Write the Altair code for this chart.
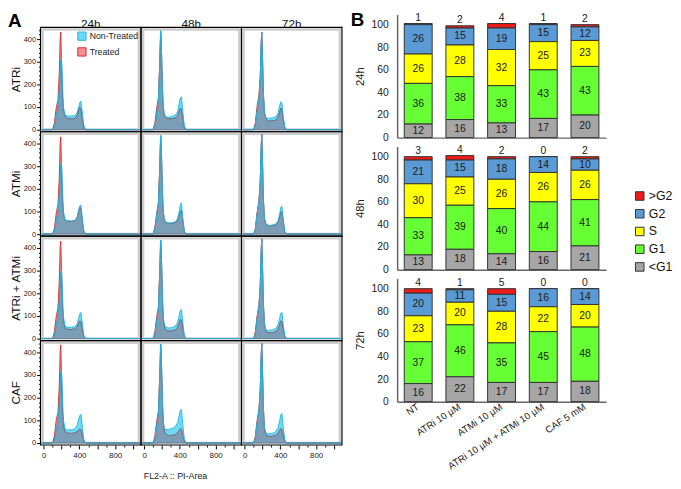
import altair as alt
import pandas as pd

# ---------------- Panel A: DNA content histograms ----------------
treatments = ["ATRi", "ATMi", "ATRi + ATMi", "CAF"]
times = ["24h", "48h", "72h"]
series_names = ["Non-Treated", "Treated"]
fl2_area = [-20, 100, 120, 140, 160, 175, 185, 192, 200, 210, 222, 240, 270, 310, 350, 375, 392, 405, 418, 432, 450, 470, 1080]

atri_24h_nt = [0, 0, 10, 55, 95, 170, 260, 305, 317, 210, 100, 65, 60, 60, 62, 75, 100, 120, 126, 80, 20, 0, 0]
atri_24h_t = [0, 0, 30, 95, 130, 250, 400, 431, 300, 150, 85, 58, 50, 47, 50, 62, 85, 98, 88, 45, 10, 0, 0]
atri_48h_nt = [0, 0, 15, 70, 130, 290, 436, 400, 260, 130, 75, 57, 55, 58, 65, 80, 115, 140, 145, 85, 18, 0, 0]
atri_48h_t = [0, 0, 30, 95, 140, 300, 436, 390, 250, 125, 72, 52, 48, 48, 52, 62, 80, 95, 88, 45, 8, 0, 0]
atri_72h_nt = [0, 0, 20, 85, 135, 225, 375, 431, 330, 165, 80, 52, 50, 52, 58, 75, 105, 123, 118, 60, 12, 0, 0]
atri_72h_t = [0, 0, 30, 105, 150, 235, 380, 431, 325, 160, 70, 45, 38, 38, 42, 55, 75, 95, 85, 45, 8, 0, 0]

atmi_24h_nt = [0, 0, 10, 55, 95, 170, 260, 305, 318, 205, 100, 62, 58, 58, 60, 75, 105, 125, 128, 75, 15, 0, 0]
atmi_24h_t = [0, 0, 25, 90, 130, 250, 400, 429, 300, 150, 85, 63, 58, 56, 58, 72, 100, 118, 110, 55, 10, 0, 0]
atmi_48h_nt = [0, 0, 20, 80, 135, 295, 435, 400, 260, 130, 72, 53, 49, 50, 55, 70, 100, 130, 138, 75, 15, 0, 0]
atmi_48h_t = [0, 0, 30, 90, 140, 300, 435, 395, 255, 125, 70, 52, 48, 47, 50, 60, 80, 100, 105, 60, 10, 0, 0]
atmi_72h_nt = [0, 0, 20, 90, 140, 230, 380, 440, 330, 160, 70, 44, 38, 40, 45, 60, 90, 118, 123, 65, 12, 0, 0]
atmi_72h_t = [0, 0, 25, 95, 145, 235, 385, 440, 325, 155, 65, 42, 37, 36, 40, 52, 72, 95, 100, 55, 10, 0, 0]

combo_24h_nt = [0, 0, 10, 55, 90, 165, 250, 290, 301, 200, 95, 55, 50, 50, 52, 65, 90, 110, 115, 70, 15, 0, 0]
combo_24h_t = [0, 0, 30, 95, 135, 255, 405, 430, 300, 145, 75, 45, 40, 40, 42, 52, 65, 78, 72, 40, 8, 0, 0]
combo_48h_nt = [0, 0, 15, 75, 130, 295, 435, 400, 260, 128, 68, 50, 47, 48, 55, 72, 100, 125, 128, 75, 15, 0, 0]
combo_48h_t = [0, 0, 30, 95, 140, 300, 435, 395, 250, 120, 60, 38, 33, 33, 38, 50, 68, 85, 80, 45, 8, 0, 0]
combo_72h_nt = [0, 0, 20, 90, 140, 230, 380, 440, 330, 160, 65, 38, 36, 38, 45, 62, 90, 112, 115, 65, 12, 0, 0]
combo_72h_t = [0, 0, 30, 100, 145, 235, 385, 440, 325, 155, 60, 30, 25, 25, 30, 42, 60, 78, 72, 40, 8, 0, 0]

caf_24h_nt = [0, 0, 10, 55, 90, 170, 265, 310, 324, 210, 100, 62, 58, 58, 62, 78, 105, 122, 127, 75, 15, 0, 0]
caf_24h_t = [0, 0, 30, 100, 135, 255, 405, 433, 300, 145, 75, 48, 43, 42, 44, 50, 57, 62, 58, 35, 8, 0, 0]
caf_48h_nt = [0, 0, 15, 75, 130, 295, 435, 400, 260, 130, 72, 58, 60, 63, 72, 90, 120, 145, 148, 85, 18, 0, 0]
caf_48h_t = [0, 0, 30, 95, 140, 300, 435, 395, 250, 120, 58, 38, 33, 33, 36, 45, 55, 62, 58, 35, 6, 0, 0]
caf_72h_nt = [0, 0, 20, 90, 140, 230, 380, 440, 330, 160, 70, 44, 40, 42, 50, 68, 98, 125, 130, 70, 14, 0, 0]
caf_72h_t = [0, 0, 30, 100, 145, 235, 385, 440, 325, 155, 60, 33, 29, 29, 33, 42, 55, 63, 58, 35, 6, 0, 0]

# ---------------- Panel B: cell-cycle distribution (%) ----------------
conditions = ["NT", "ATRi 10 µM", "ATMi 10 µM", "ATRi 10 µM + ATMi 10 µM", "CAF 5 mM"]
phase_names = [">G2", "G2", "S", "G1", "<G1"]
phase_colors = ["#ee1b1b", "#5b9bd5", "#ffff00", "#66ff33", "#a6a6a6"]

pct_24h_subg1 = [12, 16, 13, 17, 20]
pct_24h_g1 = [36, 38, 33, 43, 43]
pct_24h_s = [26, 28, 32, 25, 23]
pct_24h_g2 = [26, 15, 19, 15, 12]
pct_24h_gtg2 = [1, 2, 4, 1, 2]

pct_48h_subg1 = [13, 18, 14, 16, 21]
pct_48h_g1 = [33, 39, 40, 44, 41]
pct_48h_s = [30, 25, 26, 26, 26]
pct_48h_g2 = [21, 15, 18, 14, 10]
pct_48h_gtg2 = [3, 4, 2, 0, 2]

pct_72h_subg1 = [16, 22, 17, 17, 18]
pct_72h_g1 = [37, 46, 35, 45, 48]
pct_72h_s = [23, 20, 28, 22, 20]
pct_72h_g2 = [20, 11, 15, 16, 14]
pct_72h_gtg2 = [4, 1, 5, 0, 0]

# ---------------- build tables ----------------
curves = {
    ("ATRi", "24h"): (atri_24h_nt, atri_24h_t),
    ("ATRi", "48h"): (atri_48h_nt, atri_48h_t),
    ("ATRi", "72h"): (atri_72h_nt, atri_72h_t),
    ("ATMi", "24h"): (atmi_24h_nt, atmi_24h_t),
    ("ATMi", "48h"): (atmi_48h_nt, atmi_48h_t),
    ("ATMi", "72h"): (atmi_72h_nt, atmi_72h_t),
    ("ATRi + ATMi", "24h"): (combo_24h_nt, combo_24h_t),
    ("ATRi + ATMi", "48h"): (combo_48h_nt, combo_48h_t),
    ("ATRi + ATMi", "72h"): (combo_72h_nt, combo_72h_t),
    ("CAF", "24h"): (caf_24h_nt, caf_24h_t),
    ("CAF", "48h"): (caf_48h_nt, caf_48h_t),
    ("CAF", "72h"): (caf_72h_nt, caf_72h_t),
}
rows_a = []
for (tr, tm), (nt, tt) in curves.items():
    for name, ys in (("Non-Treated", nt), ("Treated", tt)):
        for xv, yv in zip(fl2_area, ys):
            rows_a.append({"treatment": tr, "time": tm, "series": name, "fl2": xv, "count": yv})
df_a = pd.DataFrame(rows_a)

pct = {
    "24h": [pct_24h_gtg2, pct_24h_g2, pct_24h_s, pct_24h_g1, pct_24h_subg1],
    "48h": [pct_48h_gtg2, pct_48h_g2, pct_48h_s, pct_48h_g1, pct_48h_subg1],
    "72h": [pct_72h_gtg2, pct_72h_g2, pct_72h_s, pct_72h_g1, pct_72h_subg1],
}
rows_b = []
for tm, lists in pct.items():
    for k, (ph, vals) in enumerate(zip(phase_names, lists)):
        for cond, v in zip(conditions, vals):
            rows_b.append({"time": tm, "condition": cond, "phase": ph, "value": v, "ord": 4 - k})
df_b = pd.DataFrame(rows_b)

# ---------------- Panel A chart ----------------
W_A, H_A = 102, 106
x_a = alt.X(
    "fl2:Q",
    scale=alt.Scale(domain=[-35, 1090], nice=False),
    axis=alt.Axis(
        values=list(range(0, 1001, 100)),
        labelExpr="datum.value % 400 === 0 ? datum.label : ''",
        tickSize={"condition": {"test": "datum.value % 200 === 0", "value": 4}, "value": 2},
        title=None, labelFontSize=8, labelColor="#222", tickColor="#000", domain=False, grid=False,
        labelPadding=3, labelOverlap=False,
    ),
)
y_scale_a = alt.Scale(domain=[-9, 452], nice=False)
y_axis_a = alt.Axis(
    values=list(range(0, 441, 20)),
    labelExpr="datum.value % 100 === 0 ? datum.label : ''",
    tickSize={"condition": {"test": "datum.value % 100 === 0", "value": 4}, "value": 2},
    title=None, labelFontSize=7.5, labelColor="#222", tickColor="#000", domain=False, grid=False,
    labelPadding=1, labelOverlap=False,
)
y_a = alt.Y("count:Q", stack=None, scale=y_scale_a, axis=y_axis_a)

one_per_cell = dict(n="count()", groupby=["treatment", "time"])
frame_black = alt.Chart().transform_aggregate(**one_per_cell).mark_rect(
    filled=False, stroke="#000", strokeWidth=1.2).encode(
    x=alt.value(0), x2=alt.value(W_A), y=alt.value(0), y2=alt.value(H_A))
frame_gray = alt.Chart().transform_aggregate(**one_per_cell).mark_rect(
    filled=False, stroke="#cdcdcd", strokeWidth=2.4).encode(
    x=alt.value(2.2), x2=alt.value(W_A - 2.2), y=alt.value(2.2), y2=alt.value(H_A - 2.2))
letter_a = alt.Chart().transform_filter(
    "datum.treatment === 'ATRi' && datum.time === '24h'"
).transform_aggregate(**one_per_cell).mark_text(
    text="A", fontSize=19, fontWeight="bold", align="left", baseline="top", color="#000"
).encode(x=alt.value(-33), y=alt.value(-15))

leg_a = alt.Legend(title=None, orient="none", legendX=37, legendY=17, symbolType="square", symbolSize=70,
                   symbolStrokeWidth=1, labelFontSize=8.8, labelColor="#222", rowPadding=2, labelOffset=3)
fill_scale = alt.Scale(domain=series_names, range=["#6fdaf5", "#f29292"])
stroke_scale = alt.Scale(domain=series_names, range=["#1bb9e4", "#e0272c"])

areas = alt.Chart().mark_area(clip=True, strokeWidth=0).encode(
    x=x_a, y=y_a,
    fill=alt.Fill("series:N", scale=fill_scale, legend=leg_a),
    stroke=alt.Stroke("series:N", scale=stroke_scale, legend=leg_a),
)
line_t = alt.Chart().transform_filter("datum.series === 'Treated'").mark_line(
    clip=True, strokeWidth=0.9, color="#e0272c").encode(x=x_a, y=y_a)
overlap = alt.Chart().transform_pivot(
    "series", value="count", groupby=["treatment", "time", "fl2"]
).transform_calculate(
    both="min(datum['Non-Treated'], datum['Treated'])"
).mark_area(clip=True, fill="#7c9db6", stroke="#5a7891", strokeWidth=0.8).encode(
    x=x_a, y=alt.Y("both:Q", scale=y_scale_a, axis=y_axis_a),
)
line_nt = alt.Chart().transform_filter("datum.series === 'Non-Treated'").mark_line(
    clip=True, strokeWidth=0.9, color="#1bb9e4").encode(x=x_a, y=y_a)

grid_a = alt.layer(frame_gray, areas, line_t, overlap, line_nt, frame_black, letter_a, data=df_a).properties(
    width=W_A, height=H_A
).facet(
    row=alt.Row("treatment:N", sort=treatments,
                header=alt.Header(title=None, labelFontSize=12, labelPadding=0, labelColor="#111")),
    column=alt.Column("time:N", sort=times,
                      header=alt.Header(title="FL2-A :: PI-Area", titleOrient="bottom", titleFontSize=9,
                                        titleFontWeight="normal", titleColor="#222", titlePadding=2,
                                        labelFontSize=12, labelPadding=-4, labelColor="#111")),
    spacing=0,
    bounds="flush",
)
# invisible 1-px spacer above the grid: lets panel B's bars start higher than the histogram cells
spacer_a = alt.Chart(pd.DataFrame({"s": [0]})).mark_point(opacity=0, size=1).encode(
    x=alt.value(0), y=alt.value(0)).properties(width=W_A, height=1)
panel_a = alt.vconcat(spacer_a, grid_a, spacing=12, bounds="flush")

# ---------------- Panel B charts ----------------
W_B, H_B = 212, 125


def bar_chart(tm, show_x, legend, letter=None):
    base = alt.Chart(df_b).transform_filter(alt.datum.time == tm)
    if show_x:
        ax_x = alt.Axis(title=None, ticks=False, domainColor="#666", domainWidth=1.5, labelAngle=-33,
                        labelAlign="right", labelBaseline="middle", labelFontSize=9.8, labelColor="#222",
                        labelPadding=4, labelLimit=200)
    else:
        ax_x = alt.Axis(title=None, ticks=False, labels=False, domainColor="#666", domainWidth=1.5)
    xs = alt.Scale(paddingInner=0.33, paddingOuter=0.17)
    x = alt.X("condition:N", sort=conditions, scale=xs, axis=ax_x, title=None)
    ys = alt.Scale(domain=[0, 109], nice=False)
    ax_y = alt.Axis(values=[0, 20, 40, 60, 80, 100], ticks=False, labelPadding=9, labelFontSize=10.5,
                    labelColor="#222", domainColor="#666", domainWidth=1.5, grid=False, labelOverlap=False,
                    titleFontSize=11.5, titleFontWeight="normal", titleColor="#222", titlePadding=6)
    bars = base.mark_bar(stroke="#333", strokeWidth=1).encode(
        x=x,
        y=alt.Y("value:Q", scale=ys, axis=ax_y, title=tm),
        color=alt.Color("phase:N", scale=alt.Scale(domain=phase_names, range=phase_colors), legend=legend),
        order=alt.Order("ord:Q", sort="ascending"),
    )
    stacked = base.transform_stack(
        stack="value", as_=["y0", "y1"], groupby=["condition"],
        sort=[alt.SortField("ord", order="ascending")],
    ).transform_calculate(mid="(datum.y0 + datum.y1) / 2")
    txt_in = stacked.transform_filter("datum.phase !== '>G2'").mark_text(fontSize=10.5, color="#1a1a1a").encode(
        x=x,
        y=alt.Y("mid:Q", scale=ys, axis=ax_y, title=tm),
        text="value:Q",
    )
    txt_top = stacked.transform_filter("datum.phase === '>G2'").mark_text(fontSize=10.5, color="#1a1a1a", dy=-6).encode(
        x=x,
        y=alt.Y("y1:Q", scale=ys, axis=ax_y, title=tm),
        text="value:Q",
    )
    layers = [bars, txt_in, txt_top]
    if letter is not None:
        layers.append(
            base.transform_aggregate(n="count()").mark_text(
                text=letter, fontSize=19, fontWeight="bold", align="left", baseline="top", color="#000"
            ).encode(x=alt.value(-47), y=alt.value(-3))
        )
    return alt.layer(*layers).properties(width=W_B, height=H_B)


leg_b = alt.Legend(title=None, orient="none", legendX=240, legendY=44, symbolType="square", symbolSize=75,
                   symbolStrokeColor="#333", symbolStrokeWidth=1, labelFontSize=12.5, labelColor="#111",
                   rowPadding=4, labelOffset=3)
c24 = bar_chart("24h", False, None, "B")
c48 = bar_chart("48h", False, leg_b)
c72 = bar_chart("72h", True, None)
panel_b = alt.vconcat(c24, c48, c72, spacing=9, bounds="flush").resolve_legend(color="independent")

chart = alt.concat(panel_a, panel_b, columns=2, align="none", spacing=8).resolve_scale(
    color="independent", fill="independent", stroke="independent"
).resolve_legend(
    color="independent", fill="independent", stroke="independent"
).properties(
    padding={"left": 0, "top": 0, "right": 0, "bottom": 0}
).configure(font="Liberation Sans").configure_view(stroke=None)

chart.save("out.html", embed_options={"renderer": "svg", "actions": False})
